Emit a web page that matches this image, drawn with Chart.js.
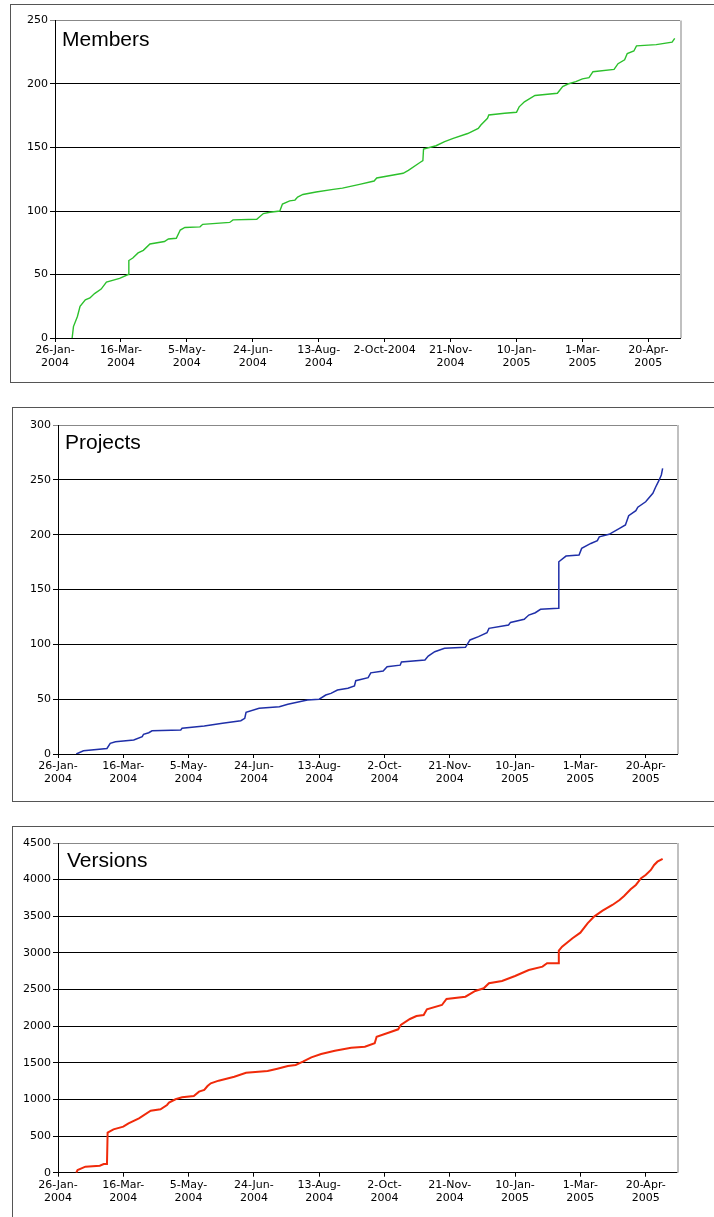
<!DOCTYPE html>
<html lang="en">
<head>
<meta charset="UTF-8">
<title>Members, Projects, Versions</title>
<script src="https://cdn.jsdelivr.net/npm/chart.js"></script>
<style>
  body { margin: 0; width: 714px; height: 1217px; overflow: hidden; background: #fff; position: relative; }
  .frame { position: absolute; border: 1px solid #555; box-sizing: border-box; }
  canvas { position: absolute; }
</style>
</head>
<body>
<div class="frame" style="left:10px;top:4px;width:720px;height:379px"></div>
<canvas id="membersChart" style="left:10px;top:4px" width="704" height="378"></canvas>

<div class="frame" style="left:12px;top:407px;width:720px;height:395px"></div>
<canvas id="projectsChart" style="left:12px;top:407px" width="702" height="394"></canvas>

<div class="frame" style="left:12px;top:826px;width:720px;height:400px"></div>
<canvas id="versionsChart" style="left:12px;top:826px" width="702" height="389"></canvas>

<script>
// x values are days after 26-Jan-2004
const tickDays = [0, 50, 100, 150, 200, 250, 300, 350, 400, 450];
const tickLabels = [['26-Jan-', '2004'], ['16-Mar-', '2004'], ['5-May-', '2004'], ['24-Jun-', '2004'],
    ['13-Aug-', '2004'], ['2-Oct-', '2004'], ['21-Nov-', '2004'], ['10-Jan-', '2005'],
    ['1-Mar-', '2005'], ['20-Apr-', '2005']];
const membersTickLabels = [['26-Jan-', '2004'], ['16-Mar-', '2004'], ['5-May-', '2004'], ['24-Jun-', '2004'],
    ['13-Aug-', '2004'], '2-Oct-2004', ['21-Nov-', '2004'], ['10-Jan-', '2005'],
    ['1-Mar-', '2005'], ['20-Apr-', '2005']];

const membersDays = [13, 14, 17, 19, 23, 26.5, 30, 35, 39, 49, 55.5, 56, 59, 63, 67, 72, 83, 86, 92, 95, 98.5,
    110, 112, 132.5, 135, 153, 158, 163, 170.5, 172.5, 178, 182, 184, 188, 198, 211, 218, 231, 242, 244,
    264, 268, 276.5, 279, 279.5, 289, 295.5, 302, 313, 321, 323, 328, 329, 341, 350, 352, 356, 364, 381,
    385, 389, 395, 400, 405, 408, 424, 427, 432, 434, 439, 441, 456, 468, 470];
const membersCount = [0, 9, 17, 25, 30, 31.5, 35, 38.5, 44, 47, 50, 61, 63, 67, 69, 74, 76, 78, 78.5, 85, 87,
    87.5, 89.5, 91, 93, 93.5, 98, 99, 100, 105.5, 108, 108.6, 111, 113, 115, 117, 118, 121, 123.6, 126,
    129.7, 132, 138, 139.6, 148.8, 151.4, 154.6, 157.2, 161, 165, 167.7, 173, 175.6, 177, 177.7, 182, 186, 191, 192.7,
    198, 200, 201.8, 204, 205, 209.7, 211.5, 216, 219, 224, 226, 230, 231, 233, 236];

const projectsDays = [14, 19.5, 37.5, 40, 44, 58, 64.5, 65.5, 69.5, 72, 94, 95, 112, 126, 140, 143, 144, 154,
    169.5, 176, 191, 200, 205, 209, 214, 222, 227, 228, 237.5, 239.5, 249, 252, 262, 263, 281, 283.5, 288.5,
    296, 312, 315.5, 322, 328.5, 330, 345, 346.5, 357, 360.5, 365.5, 369.5, 383, 383.5, 389, 399, 401, 408,
    413, 414.5, 422, 430, 434.5, 437, 442.5, 444, 450, 455.5, 457.5, 460, 462, 463];
const projectsCount = [0, 3, 5, 9.7, 11.2, 12.8, 15.8, 18, 19.4, 21.2, 21.9, 23.4, 25.5, 28, 30.4, 32.5, 38,
    41.7, 43, 45.3, 49.2, 50, 53.8, 55.3, 58.3, 60, 62, 66.8, 69.6, 74, 75.7, 79.6, 81, 84, 85.7, 89.3, 93.3,
    96.4, 97.3, 104, 107, 110.6, 114.6, 117.6, 120, 122.8, 126.7, 128.8, 131.9, 132.8, 175.3, 180.5, 181.4, 187.5,
    192, 194.5, 198, 200.3, 205.7, 208.8, 217.3, 221.9, 225, 230, 237.7, 243, 249, 254.4, 260.5];

const versionsDays = [14, 15, 21, 32, 35, 37.5, 38, 42.5, 50, 54, 62, 71, 78.5, 83.5, 85, 90, 95, 104, 108,
    112, 114.5, 117, 123, 135, 144, 160.5, 168, 176, 182, 187.5, 194, 201.5, 212, 224.5, 235, 242.5, 244,
    253, 260.5, 262.5, 269.5, 274.5, 280, 282.5, 294, 297.5, 312, 319.5, 326, 330, 340, 350, 360.5, 371,
    374.5, 383, 383.5, 386, 394, 400, 405.5, 410.5, 417, 424.5, 430, 433.5, 438.5, 442.5, 446.5, 450, 454,
    456.5, 459, 463];
const versionsCount = [0, 37, 82, 96, 119, 119, 546, 592, 628, 674, 742, 846, 865, 924, 956, 1002, 1029, 1047,
    1106, 1129, 1183, 1220, 1256, 1310, 1365, 1388, 1420, 1456, 1470, 1515, 1575, 1620, 1665, 1706, 1720, 1766,
    1856, 1911, 1957, 2016, 2098, 2139, 2153, 2230, 2289, 2371, 2402, 2480, 2517, 2585, 2617, 2685, 2767, 2812,
    2858, 2858, 3030, 3085, 3200, 3276, 3404, 3495, 3576, 3654, 3722, 3777, 3868, 3927, 4019, 4064, 4132,
    4200, 4245, 4282];

const plotFrame = {
    id: 'plotFrame',
    afterDraw(chart, args, opts) {
        const ctx = chart.ctx;
        const a = chart.chartArea;
        ctx.save();
        ctx.strokeStyle = '#c0c0c0';
        ctx.lineWidth = 2;
        ctx.beginPath();
        ctx.moveTo(a.right + 1, a.top);
        ctx.lineTo(a.right + 1, a.bottom);
        ctx.stroke();
        ctx.fillStyle = '#000';
        ctx.font = '21px "Liberation Sans", Arial, sans-serif';
        ctx.textBaseline = 'alphabetic';
        ctx.fillText(opts.text, a.left + opts.dx, a.top + opts.dy);
        ctx.restore();
    }
};

const tickFont = { family: '"DejaVu Sans", Verdana, sans-serif', size: 11, lineHeight: 1.15 };

function makeChart(id, days, values, color, width, cfg) {
    const ctx = document.getElementById(id).getContext('2d');
    return new Chart(ctx, {
        type: 'line',
        data: {
            datasets: [{
                data: days.map((d, i) => ({ x: d, y: values[i] })),
                borderColor: color,
                borderWidth: width,
                pointRadius: 0,
                tension: 0,
                fill: false
            }]
        },
        options: {
            responsive: false,
            animation: false,
            layout: { padding: cfg.padding },
            plugins: {
                legend: { display: false },
                tooltip: { enabled: false },
                plotFrame: { text: cfg.title, dx: cfg.dx, dy: cfg.dy }
            },
            scales: {
                x: {
                    type: 'linear',
                    min: 0,
                    max: 474,
                    afterBuildTicks: s => { s.ticks = tickDays.map(v => ({ value: v })); },
                    afterFit: s => { s.height = cfg.xHeight; },
                    ticks: {
                        autoSkip: false,
                        maxRotation: 0,
                        padding: 2,
                        color: '#000',
                        font: tickFont,
                        callback: v => cfg.labels[tickDays.indexOf(v)]
                    },
                    grid: { drawOnChartArea: false, color: '#000', tickLength: 4 },
                    border: { color: '#000' }
                },
                y: {
                    min: 0,
                    max: cfg.yMax,
                    afterFit: s => { s.width = cfg.yWidth; },
                    ticks: { stepSize: cfg.yStep, padding: 2, color: '#000', font: tickFont, callback: v => String(v) },
                    grid: {
                        color: c => (c.tick && c.tick.value === cfg.yMax) ? '#888' : '#000',
                        tickLength: 5
                    },
                    border: { color: '#000' }
                }
            }
        },
        plugins: [plotFrame]
    });
}

makeChart('membersChart', membersDays, membersCount, '#2cc02c', 1.4, {
    title: 'Members', dx: 7, dy: 25.5, yMax: 250, yStep: 50, yWidth: 45, xHeight: 44,
    padding: { top: 16.5, right: 34, left: 0, bottom: 0 }, labels: membersTickLabels
});
makeChart('projectsChart', projectsDays, projectsCount, '#1f2fa8', 1.5, {
    title: 'Projects', dx: 7, dy: 24, yMax: 300, yStep: 50, yWidth: 46, xHeight: 47,
    padding: { top: 18, right: 37, left: 0, bottom: 0 }, labels: tickLabels
});
makeChart('versionsChart', versionsDays, versionsCount, '#f02a0a', 2, {
    title: 'Versions', dx: 9, dy: 24, yMax: 4500, yStep: 500, yWidth: 46, xHeight: 42.3,
    padding: { top: 17, right: 37, left: 0, bottom: 0 }, labels: tickLabels
});
</script>
</body>
</html>
